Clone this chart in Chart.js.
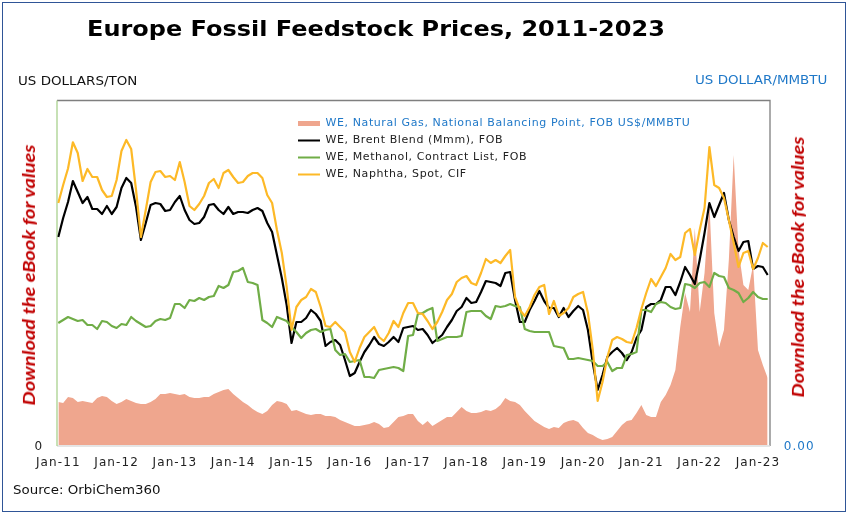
<!DOCTYPE html>
<html>
<head>
<meta charset="utf-8">
<script src="https://cdn.jsdelivr.net/npm/chart.js@4"></script>
<style>
html,body{margin:0;padding:0;background:#fff;width:850px;height:515px;overflow:hidden}
#frame{position:absolute;left:2px;top:2px;width:842px;height:508px;border:1.5px solid #2f5597;box-sizing:content-box}
#c{position:absolute;left:0;top:0}
.t{position:absolute;white-space:nowrap;font-family:"DejaVu Sans",Verdana,sans-serif;line-height:1;transform-origin:left center}
.dl{position:absolute;white-space:nowrap;font-family:Lato,sans-serif;font-weight:700;font-style:italic;font-size:20px;color:#c00000;line-height:1;transform-origin:center center}
</style>
</head>
<body>
<div id="frame"></div>
<canvas id="c" width="850" height="515"></canvas>
<div class="t" style="left:87px;top:18px;font-size:22px;font-weight:700;color:#000;transform:scaleX(1.09)">Europe Fossil Feedstock Prices, 2011-2023</div>
<div class="t" style="left:18px;top:75px;font-size:12px;color:#111;transform:scaleX(1.12)">US DOLLARS/TON</div>
<div class="t" style="left:695px;top:74px;font-size:12px;color:#1f78c8;transform:scaleX(1.12)">US DOLLAR/MMBTU</div>
<div class="t" style="left:13px;top:484px;font-size:12px;color:#111;transform:scaleX(1.115)">Source: OrbiChem360</div>
<div class="dl" style="left:-105px;top:265px;width:265px;text-align:center;transform:rotate(-90deg) scaleY(.88)">Download the eBook for values</div>
<div class="dl" style="left:664px;top:257px;width:265px;text-align:center;transform:rotate(-90deg) scaleY(.88)">Download the eBook for values</div>
<script>
const years = [11,12,13,14,15,16,17,18,19,20,21,22,23];
const monthNames = ['Jan','Feb','Mar','Apr','May','Jun','Jul','Aug','Sep','Oct','Nov','Dec'];
const months = [];
years.forEach(y => monthNames.forEach((m,k) => { if (y < 23 || k < 3) months.push(m + '-' + y); }));

const gasName = 'WE, Natural Gas, National Balancing Point, FOB US$/MMBTU';
const brentName = 'WE, Brent Blend (Mmm), FOB';
const methanolName = 'WE, Methanol, Contract List, FOB';
const naphthaName = 'WE, Naphtha, Spot, CIF';

const gas = [8.6,8.4,9.6,9.4,8.6,8.8,8.6,8.4,9.4,9.8,9.6,8.8,
8.2,8.6,9.2,8.8,8.4,8.2,8.2,8.6,9.2,10.2,10.2,10.4,
10.2,10,10.2,9.6,9.4,9.4,9.6,9.6,10.2,10.6,11,11.2,
10.2,9.4,8.6,8,7.2,6.6,6.2,6.8,8,8.8,8.6,8.2,
6.8,7,6.6,6.2,6,6.2,6.2,5.8,5.8,5.6,5,4.6,
4.2,3.8,3.8,4,4.2,4.6,4.2,3.4,3.6,4.6,5.6,5.8,
6.2,6.2,4.8,4,4.8,3.8,4.4,5,5.6,5.6,6.6,7.6,
6.8,6.4,6.4,6.6,7,6.8,7.2,8,9.4,8.8,8.6,8,
6.8,5.8,4.8,4.2,3.6,3.2,3.6,3.4,4.4,4.8,5,4.6,
3.4,2.4,2,1.4,1,1.2,1.6,2.8,4,4.8,5,6.4,
8,6,5.6,5.6,8.6,10,12,15,23.6,30.4,26.6,43.4,
26.6,34.4,48.4,26.4,19.6,23,37,58,39,32,31,36,
19,16,13.4];

const brent = [832,908,972,1056,1012,968,992,944,944,924,956,924,
952,1028,1068,1048,952,820,888,960,968,964,936,940,
972,996,940,900,884,888,912,960,964,940,924,952,
924,932,932,928,940,948,936,888,852,760,668,560,
408,492,492,508,540,524,496,396,412,420,400,340,
276,288,332,372,400,432,404,396,412,432,412,468,
472,476,460,464,440,408,424,440,472,500,536,552,
588,568,572,612,656,652,648,636,688,692,580,492,
492,540,576,616,576,548,548,512,548,512,536,556,
540,460,328,220,280,352,372,388,368,340,372,428,
460,552,564,564,580,632,632,600,652,712,680,644,
740,848,968,912,960,1008,900,832,776,812,816,704,
716,712,680];

const methanol = [488,500,512,504,496,500,480,480,464,496,492,476,
468,484,480,512,496,484,472,476,496,504,500,508,
564,564,548,580,576,588,580,592,596,636,628,640,
692,696,708,652,648,640,500,488,472,512,504,496,
472,452,428,448,460,464,452,460,464,380,360,364,
332,336,340,272,272,268,300,304,308,312,308,296,
436,440,524,528,540,548,416,424,432,432,432,436,
532,536,536,536,516,504,556,552,556,564,556,552,
464,456,452,452,452,452,396,392,388,344,344,348,
344,340,336,316,316,332,296,308,308,360,364,372,
540,540,532,564,572,568,552,544,548,644,640,628,
648,652,632,688,676,672,628,620,608,572,588,612,
592,584,584];

const naphtha = [968,1040,1106,1211,1168,1056,1104,1072,1072,1020,992,996,
1060,1176,1220,1184,1020,832,940,1052,1092,1096,1072,1076,
1060,1132,1052,956,940,964,996,1048,1064,1028,1088,1100,
1072,1048,1052,1076,1088,1088,1068,1000,968,860,768,632,
460,552,580,592,624,612,552,476,472,492,472,452,
372,332,388,432,452,472,432,416,448,496,472,528,
568,568,528,524,496,464,492,532,580,604,652,668,
676,648,640,688,744,728,740,728,756,780,592,540,
516,552,600,632,640,524,576,516,528,548,592,604,
612,528,380,176,252,352,420,432,424,412,408,468,
544,608,664,636,672,708,764,740,752,848,864,760,
860,948,1192,1040,1028,988,900,808,712,768,776,704,
748,808,792];

const colGas = '#efa68e', colBrent = '#000000', colMeth = '#70ad47', colNaph = '#fdb927';
const leftTick = ['0'], rightTick = ['0.00'];

const framePlugin = {
  id: 'framePlugin',
  beforeDatasetsDraw(chart) {
    const a = chart.chartArea, ctx = chart.ctx;
    const L = a.left - 1.3, R = a.right + 2.3, T = a.top - 0.5, B = a.bottom + 1;
    ctx.save();
    ctx.lineWidth = 1.3;
    ctx.strokeStyle = '#7f7f7f';
    ctx.beginPath(); ctx.moveTo(L, T); ctx.lineTo(R, T); ctx.lineTo(R, B); ctx.stroke();
    ctx.strokeStyle = '#dcdcdc';
    ctx.beginPath(); ctx.moveTo(L, B); ctx.lineTo(R, B); ctx.stroke();
    ctx.strokeStyle = '#a9d18e';
    ctx.beginPath(); ctx.moveTo(L, T); ctx.lineTo(L, B); ctx.stroke();
    ctx.restore();
  }
};
function spaced(obj, method, spacing) {
  if (obj['_sp_' + method]) return;
  const d = obj[method].bind(obj);
  obj[method] = a => { obj.ctx.save(); obj.ctx.letterSpacing = spacing; d(a); obj.ctx.restore(); };
  obj['_sp_' + method] = true;
}
const legendMove = {
  id: 'legendMove',
  afterLayout(chart) {
    const l = chart.legend;
    const w = l.right - l.left;
    l.left = 292; l.right = 292 + w; l.top = 112;
    spaced(l, 'draw', '0.6px');
    ['x','y','y1'].forEach(id => spaced(chart.scales[id], 'drawLabels', '1.1px'));
  }
};

new Chart(document.getElementById('c'), {
  data: {
    labels: months,
    datasets: [
      {type:'line', label:gasName, data:gas, yAxisID:'y1', order:4, fill:'origin', backgroundColor:colGas, borderColor:colGas, borderWidth:0, pointRadius:0, tension:0},
      {type:'line', label:brentName, data:brent, yAxisID:'y', order:3, fill:false, borderColor:colBrent, borderWidth:2.2, borderJoinStyle:'round', pointRadius:0, tension:0},
      {type:'line', label:methanolName, data:methanol, yAxisID:'y', order:2, fill:false, borderColor:colMeth, borderWidth:2.2, borderJoinStyle:'round', pointRadius:0, tension:0},
      {type:'line', label:naphthaName, data:naphtha, yAxisID:'y', order:1, fill:false, borderColor:colNaph, borderWidth:2.2, borderJoinStyle:'round', pointRadius:0, tension:0}
    ]
  },
  options: {
    responsive:false, animation:false, events:[],
    layout:{padding:{left:8.3, right:22.3, top:101, bottom:40}},
    scales:{
      x:{type:'category', offset:false, grid:{display:false}, border:{display:false},
        afterFit(s){s.height=30;},
        ticks:{autoSkip:false, maxRotation:0, minRotation:0, padding:3, color:'#222', font:{family:'"DejaVu Sans"',size:12},
          callback(v,i){return i%12===0?this.getLabelForValue(v):'';}}},
      y:{position:'left', min:0, max:1376, grid:{display:false}, border:{display:false},
        afterFit(s){s.width=50;},
        afterBuildTicks(s){s.ticks=[{value:0}];},
        ticks:{padding:7, labelOffset:2, color:'#222', font:{family:'"DejaVu Sans"',size:12}, callback(){return leftTick[0];}}},
      y1:{position:'right', min:0, max:68.8, grid:{display:false}, border:{display:false},
        afterFit(s){s.width=60;},
        afterBuildTicks(s){s.ticks=[{value:0}];},
        ticks:{padding:8, labelOffset:2, color:'#1f78c8', font:{family:'"DejaVu Sans"',size:12}, callback(){return rightTick[0];}}}
    },
    plugins:{
      title:{display:false},
      tooltip:{enabled:false},
      legend:{display:true, position:'chartArea', align:'start',
        labels:{usePointStyle:true, pointStyleWidth:22, boxHeight:11, padding:6,
          font:{family:'"DejaVu Sans"',size:11},
          generateLabels(chart){
            return chart.data.datasets.map((d,i)=>({
              text:d.label, datasetIndex:i, pointStyle:'line',
              fillStyle:i===0?colGas:d.borderColor, strokeStyle:i===0?colGas:d.borderColor,
              lineWidth:i===0?5:2, fontColor:i===0?'#1f78c8':'#222', hidden:false
            }));
          }}}
    }
  },
  plugins:[framePlugin, legendMove]
});
</script>
</body>
</html>
